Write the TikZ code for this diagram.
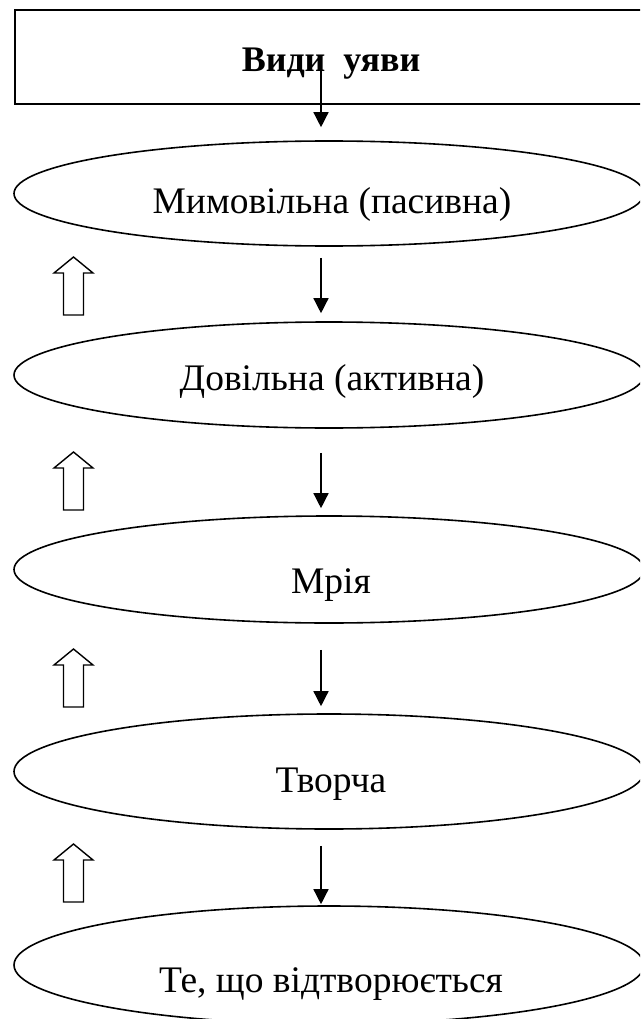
\documentclass[tikz,border=0pt]{standalone}
\usepackage{fontspec}
\setmainfont{Liberation Serif}
\usetikzlibrary{arrows.meta,shapes.geometric}

\begin{document}
\begin{tikzpicture}[x=1pt, y=-1pt,
        oval/.style={ellipse, draw, line width=1.6pt, minimum width=630pt, inner sep=0pt},
        lbl/.style={anchor=base, inner sep=0pt, font=\fontsize{37.5}{45}\selectfont},
        down/.style={-{Triangle[width=15pt,length=15pt]}, line width=1.4pt},
        pics/uparr/.style={code={
          \draw[line width=1.4pt] (-10,0) -- (-10,-42) -- (-19.5,-42) -- (0,-58)
            -- (19.5,-42) -- (10,-42) -- (10,0) -- cycle;}}
      ]
      \useasboundingbox (0,0) rectangle (640,1019);
      \clip (0,0) rectangle (640,1019);

      \node [draw, line width=1.6pt, anchor=north west, inner sep=0pt,
        minimum width=631pt, minimum height=94pt] (box) at (14,9) {};
      \node [lbl, font=\fontsize{36}{43}\selectfont\bfseries] (t0) at (331,72) {Види\ \ уяви};

      \node [oval, minimum height=105pt] (e1) at (329,193.5) {};
      \node [oval, minimum height=106pt] (e2) at (329,375) {};
      \node [oval, minimum height=107pt] (e3) at (329,569.5) {};
      \node [oval, minimum height=115pt] (e4) at (329,771.5) {};
      \node [oval, minimum height=118pt] (e5) at (329,965) {};

      \node [lbl] (t1) at (332,213) {Мимовільна (пасивна)};
      \node [lbl] (t2) at (332,390) {Довільна (активна)};
      \node [lbl] (t3) at (331,593) {Мрія};
      \node [lbl] (t4) at (331,792) {Творча};
      \node [lbl] (t5) at (331,992) {Те, що відтворюється};

      \coordinate (a0) at (321,70);
      \draw [down, shorten >=13pt] (a0) -- (a0 |- e1.north);
      \foreach \i/\j/\s/\e in {1/2/11pt/8pt, 2/3/24pt/7pt, 3/4/26pt/7pt, 4/5/16pt/1pt}
        \draw [down, shorten <=\s, shorten >=\e] (e\i.south -| a0) -- (e\j.north -| a0);

      \foreach \b in {315,510,707,902}
        \pic at (73.5,\b) {uparr};
    \end{tikzpicture}
\end{document}
